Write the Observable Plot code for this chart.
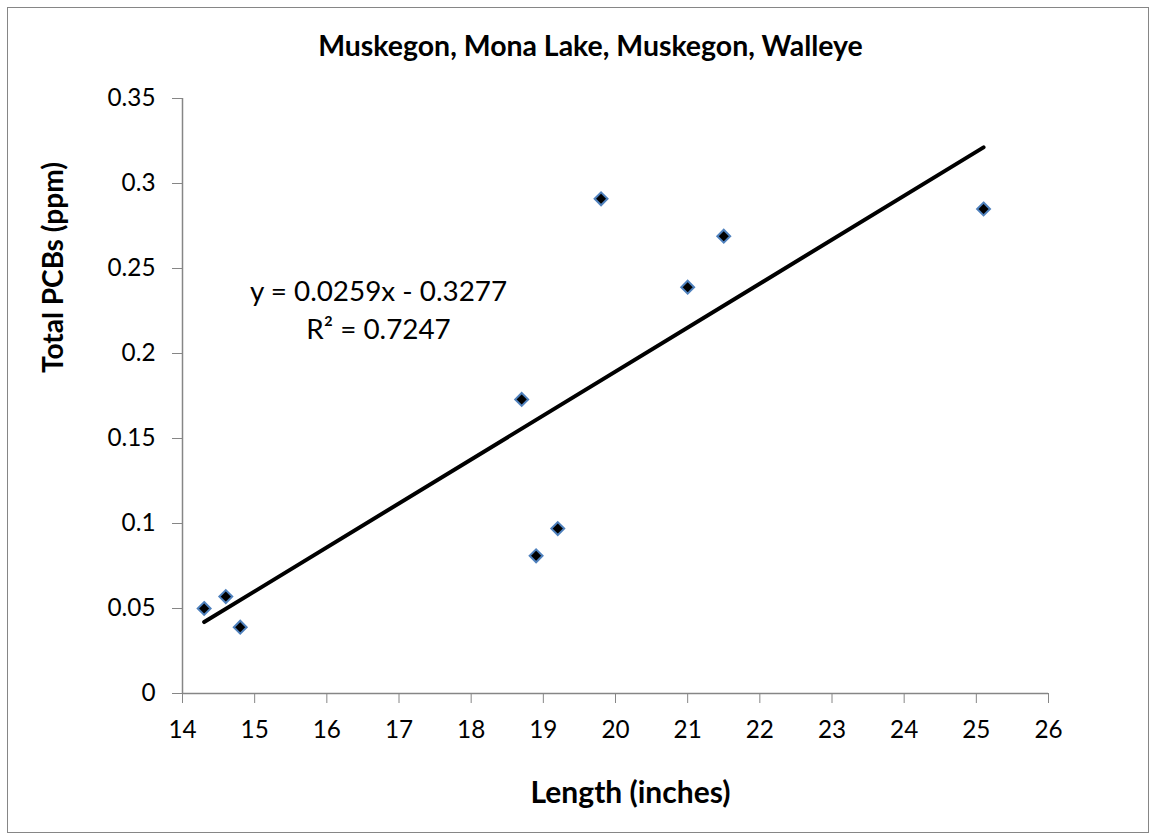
<!DOCTYPE html>
<html><head><meta charset="utf-8">
<script src="https://cdn.jsdelivr.net/npm/d3@7"></script>
<script src="https://cdn.jsdelivr.net/npm/@observablehq/plot@0.6"></script>
<style>
body{margin:0;background:#fff;}
#wrap{position:relative;width:1156px;height:840px;}
#border{position:absolute;left:7px;top:7px;width:1140px;height:824px;border:1px solid #868686;pointer-events:none;}
svg{font-family:Lato,"Open Sans",sans-serif;}
</style></head>
<body><div id="wrap"><div id="border"></div></div>
<script>
const title = "Muskegon, Mona Lake, Muskegon, Walleye";
const xLabel = "Length (inches)";
const yLabel = "Total PCBs (ppm)";
const lengths = [14.3, 14.6, 14.8, 18.7, 18.9, 19.2, 19.8, 21.0, 21.5, 25.1];
const pcbs = [0.050, 0.057, 0.039, 0.173, 0.081, 0.097, 0.291, 0.239, 0.269, 0.285];
const xTicks = [14,15,16,17,18,19,20,21,22,23,24,25,26];
const yTicks = [0,0.05,0.1,0.15,0.2,0.25,0.3,0.35];
const equation = ["y = 0.0259x - 0.3277", "R² = 0.7247"];
const data = lengths.map((x,i)=>({x, y: pcbs[i]}));

// font sizes fitted to the reference text widths
const ctx = document.createElement("canvas").getContext("2d");
function fit(text, weight, target) {
  ctx.font = `${weight} 100px Lato`;
  return 100 * target / ctx.measureText(text).width;
}
const titleSize = fit(title, "bold", 545);
const xLabelSize = fit(xLabel, "bold", 200);
const yLabelSize = fit(yLabel, "bold", 211);
const eqSize = fit(equation[0], "normal", 258);
const tickSize = fit("0.35", "normal", 48);
const fmtY = d => String(+d.toFixed(2));

const chart = Plot.plot({
  width: 1156, height: 840,
  marginLeft: 182, marginRight: 108, marginTop: 98, marginBottom: 147,
  style: {fontSize: tickSize + "px", fontFamily: "Lato, 'Open Sans', sans-serif", color: "#000", background: "white"},
  x: {domain: [14, 26], label: null},
  y: {domain: [0, 0.35], label: null},
  marks: [
    Plot.axisX({ticks: xTicks, tickSize: 10, tickPadding: 17, stroke: "#868686", fill: "#000", tickFormat: d=>String(d)}),
    Plot.axisY({ticks: yTicks, tickSize: 10, tickPadding: 17, stroke: "#868686", fill: "#000", tickFormat: fmtY}),
    Plot.ruleX([14], {stroke: "#868686", strokeWidth: 1.5}),
    Plot.ruleY([0], {stroke: "#868686", strokeWidth: 1.5}),
    Plot.linearRegressionY(data, {x: "x", y: "y", ci: 0, stroke: "black", strokeWidth: 4}),
    Plot.dot(data, {x: "x", y: "y", symbol: "diamond2", r: 5.8, fill: "black", stroke: "#4f81bd", strokeWidth: 2}),
    Plot.text([equation[0]], {frameAnchor: "top-left", dx: 196, dy: 202, text: d=>d, fontSize: eqSize, textAnchor: "middle", lineAnchor: "bottom"}),
    Plot.text([equation[1]], {frameAnchor: "top-left", dx: 196, dy: 240, text: d=>d, fontSize: eqSize, textAnchor: "middle", lineAnchor: "bottom"}),
    Plot.text([title], {frameAnchor: "top", dx: -25, dy: -43, text: d=>d, fontSize: titleSize, fontWeight: "bold", lineAnchor: "bottom"}),
    Plot.text([xLabel], {frameAnchor: "bottom", dx: 15, dy: 109, text: d=>d, fontSize: xLabelSize, fontWeight: "bold", lineAnchor: "bottom"}),
    Plot.text([yLabel], {frameAnchor: "left", dx: -120, dy: -23, text: d=>d, fontSize: yLabelSize, fontWeight: "bold", rotate: -90, lineAnchor: "bottom"})
  ]
});
document.getElementById("wrap").prepend(chart);
</script>
</body></html>
